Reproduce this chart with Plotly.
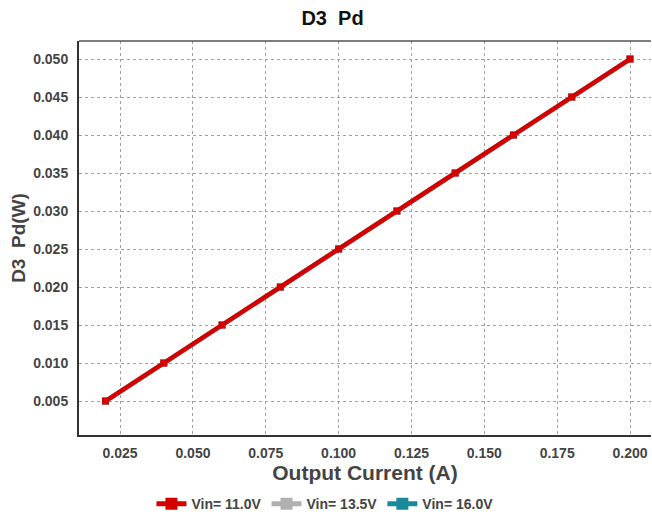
import plotly.graph_objects as go

x_current = [0.02, 0.04, 0.06, 0.08, 0.10, 0.12, 0.14, 0.16, 0.18, 0.20]
pd_11v = [0.005, 0.010, 0.015, 0.020, 0.025, 0.030, 0.035, 0.040, 0.045, 0.050]
pd_13v5 = [0.005, 0.010, 0.015, 0.020, 0.025, 0.030, 0.035, 0.040, 0.045, 0.050]
pd_16v = [0.005, 0.010, 0.015, 0.020, 0.025, 0.030, 0.035, 0.040, 0.045, 0.050]
series_names = ["Vin= 11.0V", "Vin= 13.5V", "Vin= 16.0V"]
x_ticks = [0.025, 0.05, 0.075, 0.1, 0.125, 0.15, 0.175, 0.2]
y_ticks = [0.005, 0.01, 0.015, 0.02, 0.025, 0.03, 0.035, 0.04, 0.045, 0.05]

colors = ["#d40000", "#b0b0b0", "#1a8a9a"]
data = [pd_11v, pd_13v5, pd_16v]

fig = go.Figure()
# draw in reverse so red is on top, but keep legend order
for i in [2, 1, 0]:
    fig.add_trace(go.Scatter(
        x=x_current, y=data[i], name=f"<b>{series_names[i]}</b>", mode="lines+markers",
        line=dict(color=colors[i], width=4.5),
        marker=dict(symbol="square", size=7, color=colors[i]),
        legendrank=i + 1,
    ))

font_family = "Liberation Sans, Arial, sans-serif"
fig.update_layout(
    width=652, height=515,
    margin=dict(l=79, r=1, t=41, b=80, autoexpand=False),
    paper_bgcolor="white", plot_bgcolor="white",
    title=dict(text="<b>D3  Pd</b>", x=0.51, xanchor="center", y=0.978, yanchor="top",
               font=dict(family=font_family, size=20, color="#111111")),
    font=dict(family=font_family),
    showlegend=True,
    legend=dict(orientation="h", x=0.43, xanchor="center", y=-0.135, yanchor="top",
                font=dict(family=font_family, size=14, color="#444444"),
                itemwidth=30, tracegroupgap=0,
                itemsizing="constant"),
)
fig.update_xaxes(
    range=[0.0109, 0.2072], tickvals=x_ticks,
    ticktext=[f"<b>{v:.3f}</b>" for v in x_ticks],
    tickfont=dict(family=font_family, size=14, color="#444444"),
    title=dict(text="<b>Output Current (A)</b>", font=dict(family=font_family, size=21, color="#444444"), standoff=2),
    showgrid=True, gridcolor="#a0a0a0", griddash="dot", gridwidth=1,
    showline=True, linecolor="#333333", linewidth=2, mirror=False,
    zeroline=False, ticks="", ticklabelstandoff=4, automargin=False,
)
fig.update_yaxes(
    range=[0.00053, 0.05237], tickvals=y_ticks,
    ticktext=[f"<b>{v:.3f}</b>" for v in y_ticks],
    tickfont=dict(family=font_family, size=14, color="#444444"),
    title=dict(text="<b>D3  Pd(W)</b>", font=dict(family=font_family, size=19, color="#444444"), standoff=3),
    showgrid=True, gridcolor="#a0a0a0", griddash="dot", gridwidth=1,
    showline=True, linecolor="#333333", linewidth=2,
    zeroline=False, ticks="", ticklabelstandoff=6, automargin=False,
)
# top border line
fig.add_shape(type="line", xref="paper", yref="paper", x0=0, x1=1, y0=1, y1=1,
              line=dict(color="#555555", width=1.5))

fig.write_html("out.html", config={"displayModeBar": False},
               post_script="document.body.style.margin='0';document.body.style.overflow='hidden';")
